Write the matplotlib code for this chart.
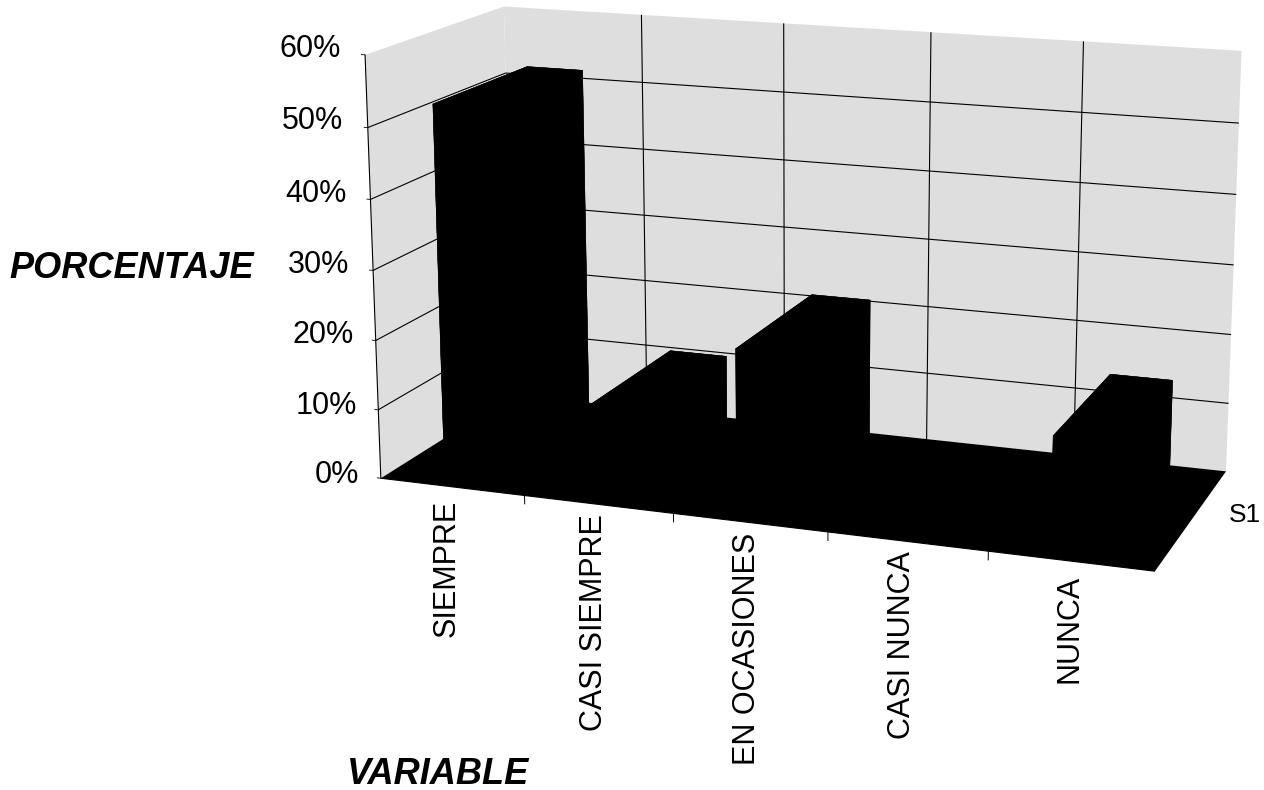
import numpy as np
import matplotlib
matplotlib.use("Agg")
import matplotlib.pyplot as plt

categories = ["SIEMPRE", "CASI SIEMPRE", "EN OCASIONES", "CASI NUNCA", "NUNCA"]
values = [52.5, 11.5, 22, 0.5, 14.5]
pct_ticks = [0, 10, 20, 30, 40, 50, 60]

W, H = 1264, 790
plt.rcParams["font.family"] = ["Liberation Sans", "DejaVu Sans"]

fig = plt.figure(figsize=(W / 100, H / 100), dpi=100, facecolor="white")
# camera and axes box fitted to the corners of the reference
ax = fig.add_axes([324.1 / W, 41.5 / H, 936.4 / W, 936.4 / H], projection="3d", computed_zorder=False)
ax.set_facecolor("none")
ax.view_init(elev=14.245, azim=-70.126)
ax.set_proj_type("persp", focal_length=0.5816)
ax.set_box_aspect((1.8421, 0.7205, 1))

x = np.arange(len(categories))
ax.bar3d(x + 0.3, 0.15, 0, 0.4, 0.7, values, color="black", shade=False, edgecolor="black", linewidth=0.3)

ax.set_xlim(0, 5)
ax.set_ylim(0, 1)
ax.set_zlim(0, 60)
ax.set_xticks([1, 2, 3, 4])
ax.set_yticks([0])
ax.set_zticks(pct_ticks[1:-1])
ax.set_xticklabels([])
ax.set_yticklabels([])
ax.set_zticklabels([])

ax.xaxis.set_pane_color((0.87, 0.87, 0.87, 1))
ax.yaxis.set_pane_color((0.87, 0.87, 0.87, 1))
ax.zaxis.set_pane_color((0, 0, 0, 1))
for axis in (ax.xaxis, ax.yaxis, ax.zaxis):
    axis._axinfo["grid"].update(color="black", linewidth=0.8)
    axis._axinfo["tick"].update(inward_factor=0, outward_factor=0)
    axis.line.set_visible(False)
    axis.pane.set_edgecolor("none")

# small tick marks below the floor and left of the wall
for i in range(1, 5):
    ax.plot([i, i], [0, 0], [0, -1.2], color="black", lw=0.7)
for p in pct_ticks:
    ax.plot([0, -0.025], [0, 0], [p, p], color="black", lw=0.6)


def px(xp, yp):
    return xp / W, 1 - yp / H


# the value labels step along the slanted wall edge
tick_y = [475, 406, 335, 265, 194, 121, 49]
tick_right = [359, 357, 354, 349, 347, 343, 341]
for p, xp, yp in zip(pct_ticks, tick_right, tick_y):
    fig.text(*px(xp, yp), f"{p}%", ha="right", va="center", fontsize=22)

cat_x = [447, 594, 747, 902, 1069]
cat_top = [500, 514, 533, 551, 575]
for name, xp, yp in zip(categories, cat_x, cat_top):
    fig.text(*px(xp, yp), name, rotation=90, ha="center", va="top", fontsize=22)

fig.text(*px(254, 268), "PORCENTAJE", ha="right", va="center", fontsize=26,
         fontweight="bold", fontstyle="italic")
fig.text(*px(347, 775), "VARIABLE", ha="left", va="center", fontsize=26,
         fontweight="bold", fontstyle="italic")
fig.text(*px(1229, 515), "S1", ha="left", va="center", fontsize=19)

fig.savefig("out.png", dpi=100)
